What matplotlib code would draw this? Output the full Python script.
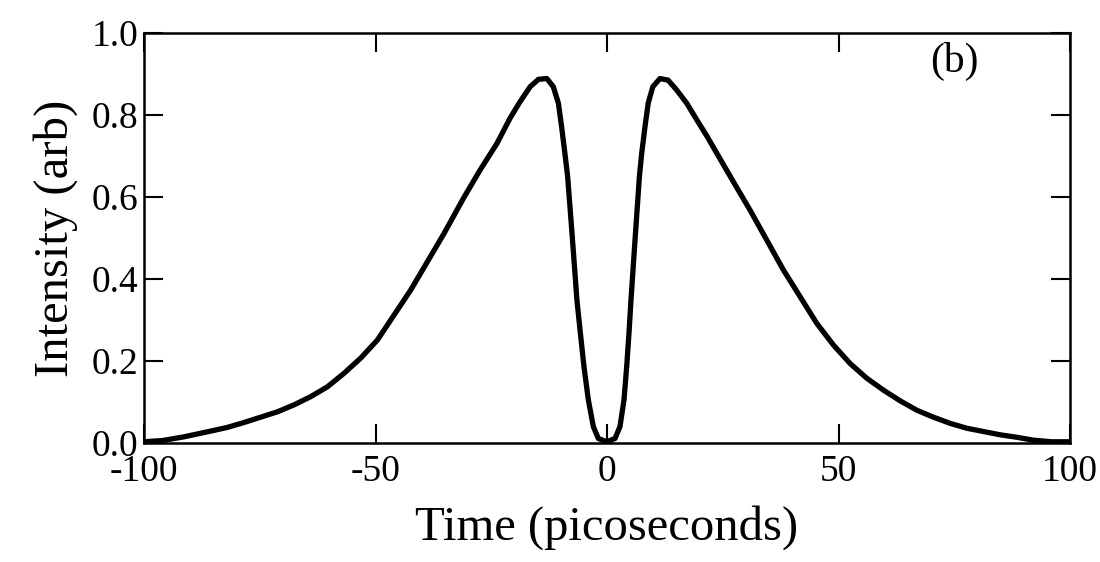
import numpy as np
import matplotlib.pyplot as plt

# Intensidad vs tiempo
time_ps = [-100, -96, -91.4, -85.6, -82, -78.4, -74.8, -71.2, -67.6, -64,
           -60.4, -56.8, -53.2, -49.6, -46, -42.4, -38.8, -35.2, -31, -27.4,
           -23.8, -20.95, -18.8, -16.6, -14.8, -13.0, -11.6, -10.5, -9.8, -9.1,
           -8.5, -7.5, -6.5, -5.75, -4.97, -4.03, -2.95, -1.87, -0.07, 1.73,
           2.8, 3.67, 4.25, 4.75, 5.18, 6.1, 7.0, 7.5, 8.2, 8.9,
           9.9, 11.45, 13.2, 15.05, 17.2, 19.4, 21.5, 23.7, 27.3, 30.9,
           34.5, 38.1, 41.7, 45.3, 48.9, 52.5, 56.1, 59.7, 63.3, 66.9,
           70.5, 74.1, 77.7, 81.3, 84.9, 88.5, 92, 96, 100]
intensity = [0.003, 0.006, 0.015, 0.029, 0.038, 0.05, 0.063, 0.076, 0.093, 0.113,
             0.137, 0.17, 0.207, 0.251, 0.312, 0.373, 0.442, 0.511, 0.597, 0.666,
             0.73, 0.792, 0.832, 0.869, 0.887, 0.889, 0.869, 0.829, 0.771, 0.707,
             0.65, 0.503, 0.349, 0.268, 0.186, 0.105, 0.04, 0.011, 0.003, 0.011,
             0.04, 0.105, 0.186, 0.268, 0.349, 0.503, 0.65, 0.707, 0.771, 0.829,
             0.869, 0.889, 0.885, 0.861, 0.829, 0.788, 0.75, 0.707, 0.637, 0.568,
             0.495, 0.422, 0.357, 0.292, 0.239, 0.194, 0.158, 0.129, 0.103, 0.08,
             0.063, 0.048, 0.036, 0.028, 0.02, 0.014, 0.007, 0.003, 0.003]

xticks = [-100, -50, 0, 50, 100]
yticks = [0.0, 0.2, 0.4, 0.6, 0.8, 1.0]

plt.rcParams['font.family'] = ['Liberation Serif', 'DejaVu Serif']

fig = plt.figure(figsize=(11, 5.62), dpi=100)
ax = fig.add_axes([144/1100, 119/562, 926/1100, 410/562])

ax.plot(time_ps, intensity, color='black', lw=3.8,
        solid_joinstyle='round', solid_capstyle='round')

ax.set_xlim(-100, 100)
ax.set_ylim(0, 1.0)
ax.set_xticks(xticks)
ax.set_xticklabels([str(v) for v in xticks])
ax.set_yticks(yticks)
ax.set_yticklabels(['%.1f' % v for v in yticks])

ax.tick_params(direction='in', length=14, width=1.5, top=True, right=True,
               labelsize=27, color='black')
ax.tick_params(axis='x', pad=8)
ax.tick_params(axis='y', pad=4)
for s in ax.spines.values():
    s.set_linewidth(1.8)

ax.set_xlabel('Time (picoseconds)', fontsize=35, labelpad=12)
ax.set_ylabel('Intensity (arb)', fontsize=35, labelpad=10)
ax.text(0.875, 0.93, '(b)', transform=ax.transAxes, fontsize=30,
        ha='center', va='center')

plt.savefig('out.png', dpi=100)
